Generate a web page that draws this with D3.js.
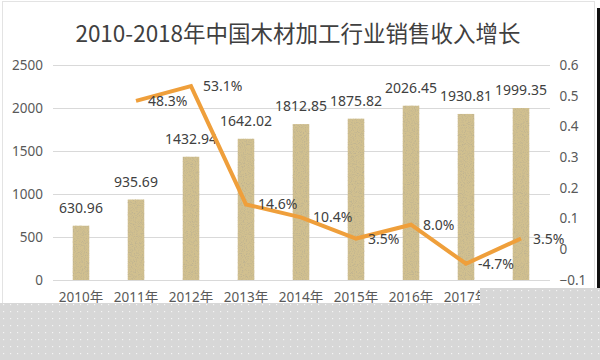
<!DOCTYPE html>
<html>
<head>
<meta charset="utf-8">
<script src="https://cdn.jsdelivr.net/npm/d3@7"></script>
<style>
  html, body { margin: 0; padding: 0; background: #ffffff; }
  svg { display: block; }
</style>
</head>
<body>
<div id="chart"></div>
<script>
// ---- data ----
const title = "2010-2018年中国木材加工行业销售收入增长";
const years = ["2010年", "2011年", "2012年", "2013年", "2014年", "2015年", "2016年", "2017年", "2018年"];
const revenue = [630.96, 935.69, 1432.94, 1642.02, 1812.85, 1875.82, 2026.45, 1930.81, 1999.35];
const growth = [null, 0.483, 0.531, 0.146, 0.104, 0.035, 0.080, -0.047, 0.035];
const growthLabels = ["", "48.3%", "53.1%", "14.6%", "10.4%", "3.5%", "8.0%", "-4.7%", "3.5%"];
const leftTicks = [0, 500, 1000, 1500, 2000, 2500];
const rightTicks = [-0.1, 0, 0.1, 0.2, 0.3, 0.4, 0.5, 0.6];

// ---- layout ----
const W = 600, H = 360;
const plot = { left: 53.5, right: 548.5, top: 65, bottom: 280 };
const numFont = "'Noto Sans', 'Noto Sans CJK SC', sans-serif";

const svg = d3.select("#chart").append("svg").attr("width", W).attr("height", H);
const defs = svg.append("defs");

// sandy grain texture for the bars
const f = defs.append("filter").attr("id", "grain")
  .attr("x", 0).attr("y", 0).attr("width", 1).attr("height", 1);
f.append("feTurbulence").attr("type", "fractalNoise").attr("baseFrequency", 0.9)
  .attr("numOctaves", 2).attr("seed", 7).attr("result", "noise");
f.append("feColorMatrix").attr("in", "noise").attr("type", "matrix")
  .attr("values", "0 0 0 0 0.52  0 0 0 0 0.45  0 0 0 0 0.28  0 0 0 3 -1.4")
  .attr("result", "speck");
f.append("feComposite").attr("in", "speck").attr("in2", "SourceGraphic")
  .attr("operator", "in").attr("result", "sp");
const fm = f.append("feMerge");
fm.append("feMergeNode").attr("in", "SourceGraphic");
fm.append("feMergeNode").attr("in", "sp");

// dotted grey pattern for the covered bottom
const pat = defs.append("pattern").attr("id", "dots").attr("patternUnits", "userSpaceOnUse")
  .attr("width", 7).attr("height", 7);
pat.append("rect").attr("width", 7).attr("height", 7).attr("fill", "#d7d7d7");
pat.append("rect").attr("x", 3).attr("y", 3).attr("width", 1.2).attr("height", 1.2).attr("fill", "#f4f4f4");

// faint frame
svg.append("rect").attr("x", 2.5).attr("y", 1.5).attr("width", 592).attr("height", 320)
  .attr("fill", "none").attr("stroke", "#e3e3e3").attr("stroke-width", 1);

// ---- scales ----
const x = d3.scaleBand().domain(years).range([plot.left, plot.right])
  .paddingInner(0.7).paddingOuter(0.35);
const yL = d3.scaleLinear().domain([0, 2500]).range([plot.bottom, plot.top]);
const yR = d3.scaleLinear().domain([-0.1, 0.6]).range([plot.bottom, plot.top]);
const cx = d => x(d) + x.bandwidth() / 2;

// ---- title ----
svg.append("text").attr("x", 298).attr("y", 42).attr("text-anchor", "middle")
  .attr("font-family", "'Noto Sans CJK SC', sans-serif").attr("font-size", 22.5)
  .attr("fill", "#404040").text(title);

// ---- left axis + gridlines ----
const gL = svg.append("g").attr("transform", `translate(${plot.left - 0.5},0)`)
  .call(d3.axisLeft(yL).tickValues(leftTicks).tickFormat(d3.format("d"))
    .tickSize(-(plot.right - plot.left + 2)).tickPadding(10));
gL.select(".domain").remove();
gL.selectAll(".tick line").attr("stroke", "#d9d9d9");
gL.selectAll(".tick text").attr("font-family", numFont).attr("font-size", 13.5).attr("fill", "#595959");

// ---- right axis ----
const gR = svg.append("g").attr("transform", `translate(${plot.right + 1},0)`)
  .call(d3.axisRight(yR).tickValues(rightTicks).tickSize(0).tickPadding(10)
    .tickFormat(v => Math.abs(v) < 1e-9 ? "0" : d3.format(".1f")(v)));
gR.select(".domain").remove();
gR.selectAll(".tick text").attr("font-family", numFont).attr("font-size", 13.5).attr("fill", "#595959");

// ---- x axis ----
const gX = svg.append("g").attr("transform", `translate(0,${plot.bottom})`)
  .call(d3.axisBottom(x).tickSize(0).tickPadding(12));
gX.select(".domain").remove();
gX.selectAll(".tick text").attr("font-family", numFont).attr("font-size", 13.5).attr("fill", "#595959");

// ---- bars ----
const data = years.map((y, i) => ({ year: y, rev: revenue[i], g: growth[i], gl: growthLabels[i] }));
svg.append("g").selectAll("rect").data(data).join("rect")
  .attr("x", d => x(d.year)).attr("width", x.bandwidth())
  .attr("y", d => yL(d.rev)).attr("height", d => yL(0) - yL(d.rev))
  .attr("fill", "#d1c08f").attr("filter", "url(#grain)");

// bar value labels
svg.append("g").selectAll("text").data(data).join("text")
  .attr("x", d => cx(d.year)).attr("y", d => yL(d.rev) - 13)
  .attr("text-anchor", "middle").attr("font-family", numFont).attr("font-size", 14)
  .attr("fill", "#404040").text(d => d.rev.toFixed(2));

// ---- growth line ----
const lineData = data.filter(d => d.g !== null);
svg.append("path").datum(lineData)
  .attr("d", d3.line().x(d => cx(d.year)).y(d => yR(d.g)))
  .attr("fill", "none").attr("stroke", "#ef9f3b").attr("stroke-width", 4);

svg.append("g").selectAll("text").data(lineData).join("text")
  .attr("x", d => cx(d.year) + 12).attr("y", d => yR(d.g)).attr("dy", "0.36em")
  .attr("font-family", numFont).attr("font-size", 14).attr("fill", "#404040")
  .text(d => d.gl);

// ---- right black edge and covered bottom ----
svg.append("rect").attr("x", 597).attr("y", 8).attr("width", 3).attr("height", 281).attr("fill", "#111");
svg.append("path")
  .attr("d", "M0,303 L480,303 L480,288 L600,288 L600,360 L0,360 Z")
  .attr("fill", "url(#dots)");
</script>
</body>
</html>
